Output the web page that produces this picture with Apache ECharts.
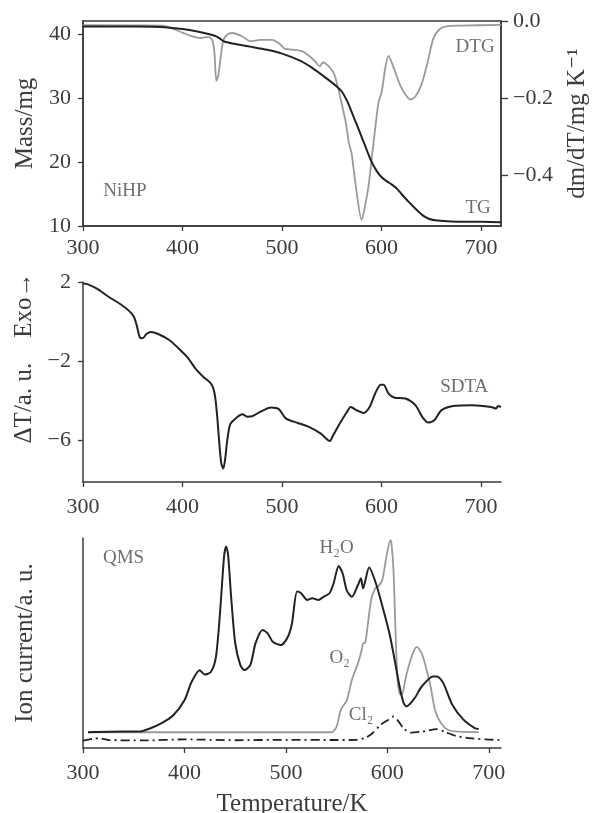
<!DOCTYPE html>
<html><head><meta charset="utf-8">
<script src="https://cdn.jsdelivr.net/npm/echarts@6/dist/echarts.min.js"></script>
<style>html,body{margin:0;padding:0;background:#fff}#c{width:592px;height:813px}</style>
</head><body><div id="c"></div>
<script>
// ---- data (temperature K, value) ----
const tempTicks = [300, 400, 500, 600, 700];
const massTicks = [10, 20, 30, 40];
const dtgTicks = [0, -0.2, -0.4];
const sdtaTicks = [2, -2, -6];

const tgData = [[300,41.15],[340,41.15],[370,41.1],[385,41.0],[400,40.75],[415,40.35],[428,39.9],[434,39.6],[438,39.2],[442,38.8],[450,38.5],[468,38.0],[485,37.5],[500,36.9],[518,35.8],[531,34.6],[545,33.0],[554,31.9],[560,31.0],[566,29.3],[572,27.0],[578,24.7],[584,22.3],[590,20.0],[595,18.6],[600,17.6],[605,17.0],[610,16.5],[615,15.9],[620,15.0],[627,13.8],[634,12.7],[641,11.7],[648,11.1],[656,10.85],[670,10.7],[700,10.65],[720,10.6]];

const dtgData = [[300,-0.011],[380,-0.012],[390,-0.02],[400,-0.03],[410,-0.04],[418,-0.044],[426,-0.041],[430,-0.05],[432,-0.08],[434,-0.155],[436,-0.14],[438,-0.1],[441,-0.05],[445,-0.035],[450,-0.031],[460,-0.04],[468,-0.052],[478,-0.049],[490,-0.049],[498,-0.06],[503,-0.072],[510,-0.074],[520,-0.078],[527,-0.09],[533,-0.104],[538,-0.117],[541,-0.107],[546,-0.115],[552,-0.135],[556,-0.17],[559,-0.203],[564,-0.262],[567,-0.313],[570,-0.344],[574,-0.425],[580,-0.515],[584,-0.47],[587,-0.425],[592,-0.313],[597,-0.21],[600,-0.185],[604,-0.117],[607,-0.09],[612,-0.12],[619,-0.168],[624,-0.19],[629,-0.203],[634,-0.195],[640,-0.165],[646,-0.11],[652,-0.045],[658,-0.022],[665,-0.014],[680,-0.012],[720,-0.01]];

const sdtaData = [[300,1.92],[305,1.88],[314,1.66],[326,1.24],[337,0.9],[346,0.55],[351,0.25],[354,-0.2],[357,-0.8],[360,-0.85],[364,-0.62],[368,-0.53],[375,-0.62],[387,-0.95],[398,-1.46],[406,-1.88],[413,-2.39],[421,-2.81],[428,-3.11],[431,-3.4],[433,-3.9],[435,-4.9],[437,-6.2],[439,-7.2],[441,-7.45],[443,-6.9],[445,-6.0],[448,-5.2],[455,-4.84],[460,-4.7],[465,-4.82],[470,-4.8],[478,-4.58],[489,-4.36],[497,-4.45],[504,-4.92],[516,-5.14],[527,-5.34],[539,-5.68],[548,-6.05],[551,-5.8],[558,-5.17],[565,-4.6],[569,-4.33],[575,-4.5],[582,-4.63],[588,-4.33],[594,-3.6],[599,-3.2],[602,-3.2],[607,-3.65],[613,-3.86],[624,-3.9],[634,-4.24],[641,-4.84],[647,-5.12],[653,-5.0],[660,-4.5],[672,-4.28],[691,-4.24],[710,-4.33],[715,-4.41],[717,-4.28],[720,-4.33]];

const h2oData = [[305,7.5],[340,7.8],[355,7.8],[366,9.3],[377,11.7],[389,15.6],[400,22.7],[407,31.4],[415,37],[420,35],[426,36.2],[431,43.3],[435,64],[439,91],[441,96],[443,92],[446,72],[450,50],[455,39.6],[459,37.1],[465,39.6],[470,49.8],[477,56.2],[482,54.6],[487,50.6],[495,49],[502,53],[506,59.4],[511,74.5],[515,73.7],[521,70.5],[526,71.3],[532,70.5],[537,72],[543,73.7],[547,78.4],[552,86.7],[556,83],[560,75],[565,72],[571,77.6],[574,80.8],[576,76],[582,86],[589,78],[597,64],[602,54.6],[606,45],[612,29.4],[616,21.4],[619,19.8],[627,23.8],[634,29.4],[645,34.1],[649,34.1],[655,31],[664,20.6],[675,13.5],[686,9.5],[690,9.0]];

const o2Data = [[305,7.5],[545,7.5],[550,10.2],[554,18],[560,22.7],[565,32.4],[571,40.3],[575,47.3],[576,49.8],[578,50],[580,56],[584,70.5],[588,76],[591,77],[595,80],[599,91],[603,99],[604,97.5],[606,85],[608,56],[610,32.4],[612,26],[614,25.2],[619,35.4],[625,45],[629,48.2],[634,45],[642,30.7],[647,18],[653,11.7],[660,8.6],[670,7.8],[690,7.5]];

const cl2Data = [[300,3.5],[310,4.4],[316,4.6],[325,3.8],[360,3.6],[400,4.1],[450,3.7],[500,3.9],[550,3.8],[570,3.9],[578,4.8],[585,6.9],[593,10.9],[601,13.5],[606,15],[610,13.3],[616,9.4],[623,7.3],[634,7.8],[649,9],[656,7.8],[668,5.7],[683,4.6],[701,4],[712,3.8]];

const labelsTop = [{name:'NiHP', value:[342,15.4]}, {name:'DTG', value:[694,37.9]}, {name:'TG', value:[697,12.8]}];
const labelsMid = [{name:'SDTA', value:[683,-3.3]}];
const labelsBot = [{name:'QMS', value:[340,90.5]}, {name:'H₂O', value:[550,95]}, {name:'O₂', value:[553,43]}, {name:'Cl₂', value:[574,15.7]}];

// ---- chart ----
const FONT = "'Liberation Serif','DejaVu Serif',serif";
const AX = '#3a3a3a';
const TXT = '#3c3c3c';
const TICK_FS = 22, NAME_FS = 25, LABEL_FS = 19;
const minus = v => (v < 0 ? '\u2212' + Math.abs(v) : String(v));

function xAxisCfg(gridIndex, maxT, margin, withName) {
  return {
    type: 'value', gridIndex, min: 300, max: maxT,
    axisLine: {show: true, onZero: false, lineStyle: {color: AX, width: 1.5}},
    axisTick: {show: true, inside: false, length: 5, lineStyle: {color: AX, width: 1.3}, customValues: tempTicks},
    axisLabel: {show: true, fontSize: TICK_FS, color: TXT, fontFamily: FONT, margin, customValues: tempTicks},
    splitLine: {show: false},
    name: withName ? 'Temperature/K' : '', nameLocation: 'middle', nameGap: 44,
    nameTextStyle: {fontSize: NAME_FS, color: TXT, fontFamily: FONT}
  };
}
function nameStyle(extra) { return Object.assign({fontSize: NAME_FS, color: TXT, fontFamily: FONT}, extra || {}); }

const labelSeries = (xi, yi, data) => ({
  type: 'scatter', xAxisIndex: xi, yAxisIndex: yi, data, symbolSize: 0, silent: true,
  label: {show: true, position: 'inside', formatter: p => p.name, fontSize: LABEL_FS, color: '#4a4a4a', fontFamily: FONT}
});
const lineSeries = (name, xi, yi, data, color, width, type) => ({
  name, type: 'line', xAxisIndex: xi, yAxisIndex: yi, data, showSymbol: false, smooth: 0.25,
  lineStyle: {color, width, type: type || 'solid'}, silent: true, animation: false
});

const chart = echarts.init(document.getElementById('c'), null, {renderer: 'canvas'});
chart.setOption({
  animation: false,
  backgroundColor: '#fff',
  grid: [
    {left: 83, width: 418, top: 21, height: 205, outerBoundsMode: 'none', containLabel: false,
     show: true, borderColor: AX, borderWidth: 1.5, backgroundColor: 'transparent'},
    {left: 83, width: 418, top: 282, height: 200, outerBoundsMode: 'none', containLabel: false},
    {left: 83, width: 418, top: 538, height: 210, outerBoundsMode: 'none', containLabel: false}
  ],
  xAxis: [xAxisCfg(0, 720, 11, false), xAxisCfg(1, 720, 14, false), xAxisCfg(2, 712, 14, true)],
  yAxis: [
    {type: 'value', gridIndex: 0, min: 10, max: 42, position: 'left',
     axisLine: {show: true, onZero: false, lineStyle: {color: AX, width: 1.5}},
     axisTick: {show: true, length: 5, lineStyle: {color: AX, width: 1.3}, customValues: massTicks},
     axisLabel: {fontSize: TICK_FS, color: TXT, fontFamily: FONT, margin: 12, customValues: massTicks},
     splitLine: {show: false},
     name: 'Mass/mg', nameLocation: 'middle', nameRotate: 90, nameGap: 45, nameTextStyle: nameStyle()},
    {type: 'value', gridIndex: 0, min: -0.53, max: 0, position: 'right',
     axisLine: {show: true, onZero: false, lineStyle: {color: AX, width: 1.5}},
     axisTick: {show: true, length: 7, lineStyle: {color: AX, width: 1.3}, customValues: dtgTicks},
     axisLabel: {fontSize: TICK_FS, color: TXT, fontFamily: FONT, margin: 12, customValues: dtgTicks,
       formatter: v => v === 0 ? '0.0' : '\u2212' + Math.abs(v).toFixed(1)},
     splitLine: {show: false},
     name: 'dm/dT/mg K\u207B\u00B9', nameLocation: 'middle', nameRotate: 90, nameGap: 64, nameTextStyle: nameStyle()},
    {type: 'value', gridIndex: 1, min: -8.13, max: 2,
     axisLine: {show: true, onZero: false, lineStyle: {color: AX, width: 1.5}},
     axisTick: {show: true, length: 5, lineStyle: {color: AX, width: 1.3}, customValues: sdtaTicks},
     axisLabel: {fontSize: TICK_FS, color: TXT, fontFamily: FONT, margin: 12, customValues: sdtaTicks, formatter: minus},
     splitLine: {show: false},
     name: '\u0394T/a. u.\u2003Exo\u2192', nameLocation: 'middle', nameRotate: 90, nameGap: 45,
     nameTextStyle: nameStyle({padding: [0, 0, 0, 48]})},
    {type: 'value', gridIndex: 2, min: 0, max: 100,
     axisLine: {show: true, onZero: false, lineStyle: {color: AX, width: 1.5}},
     axisTick: {show: false}, axisLabel: {show: false}, splitLine: {show: false},
     name: 'Ion current/a. u.', nameLocation: 'middle', nameRotate: 90, nameGap: 45, nameTextStyle: nameStyle()}
  ],
  series: [
    lineSeries('DTG', 0, 1, dtgData, '#9a9a9a', 1.8),
    lineSeries('TG', 0, 0, tgData, '#222', 2),
    lineSeries('SDTA', 1, 2, sdtaData, '#222', 2),
    lineSeries('Cl2', 2, 3, cl2Data, '#222', 1.8, [9, 4, 2, 4]),
    lineSeries('O2', 2, 3, o2Data, '#9a9a9a', 1.8),
    lineSeries('H2O', 2, 3, h2oData, '#222', 2),
    labelSeries(0, 0, labelsTop),
    labelSeries(1, 2, labelsMid),
    labelSeries(2, 3, labelsBot)
  ]
});
</script></body></html>
